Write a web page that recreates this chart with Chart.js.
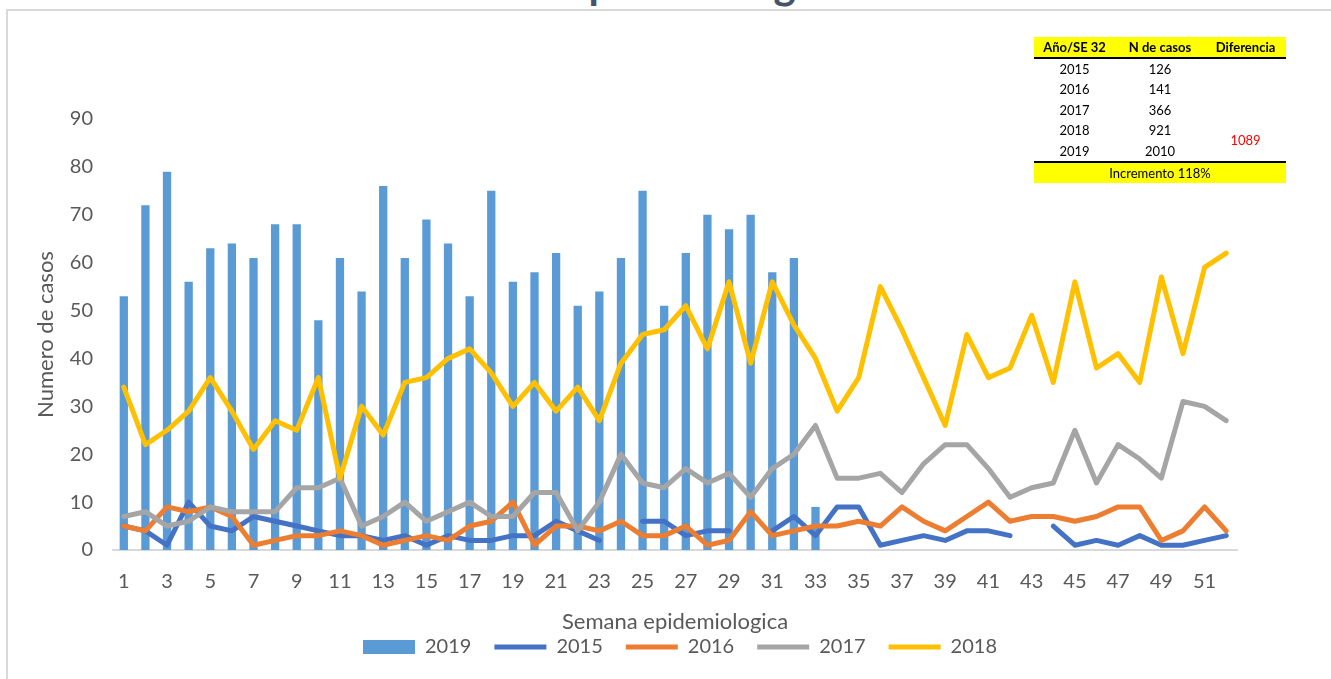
<!DOCTYPE html>
<html>
<head>
<meta charset="utf-8">
<script src="https://cdn.jsdelivr.net/npm/chart.js@4/dist/chart.umd.min.js"></script>
<style>
  body { margin: 0; background: #fff; overflow: hidden; font-family: Lato, sans-serif; }
  #frame { position: absolute; left: 6px; top: 9px; width: 1400px; height: 700px;
           border-left: 2px solid #d9d9d9; border-top: 2px solid #d9d9d9; }
  #titulo { position: absolute; top: -38px; left: -21px; width: 1336px; text-align: center;
            font: bold 42px Lato; line-height: 42px; color: #44546a; white-space: nowrap; }
  #grafico { position: absolute; left: 0; top: 0; }
  #tabla { position: absolute; left: 1034px; top: 37px; border-collapse: collapse;
           font: 13px Lato; color: #000; }
  #tabla th, #tabla td { padding: 0; text-align: center; height: 20px; line-height: 20px; }
  #tabla th { background: #ffff00; font-weight: bold; border-bottom: 2px solid #000; height: 20px; }
  #tabla td.dif { color: #ff0000; }
  #tabla tr.pie td { background: #ffff00; border-top: 2px solid #000; }
</style>
</head>
<body>
<div id="titulo">Curva epidemiológica</div>
<div id="frame"></div>
<canvas id="grafico" width="1331" height="679"></canvas>
<table id="tabla"></table>
<script>
  const semanas = ["1","2","3","4","5","6","7","8","9","10","11","12","13","14","15","16","17","18","19","20",
    "21","22","23","24","25","26","27","28","29","30","31","32","33","34","35","36","37","38","39","40",
    "41","42","43","44","45","46","47","48","49","50","51","52"];

  const casos2019 = [53,72,79,56,63,64,61,68,68,48, 61,54,76,61,69,64,53,75,56,58,
    62,51,54,61,75,51,62,70,67,70, 58,61,9,null,null,null,null,null,null,null,
    null,null,null,null,null,null,null,null,null,null, null,null];
  const casos2015 = [5,4,1,10,5,4,7,6,5,4, 3,3,2,3,1,3,2,2,3,3,
    6,4,2,null,6,6,3,4,4,null, 4,7,3,9,9,1,2,3,2,4,
    4,3,null,5,1,2,1,3,1,1, 2,3];
  const casos2016 = [5,4,9,8,9,7,1,2,3,3, 4,3,1,2,3,2,5,6,10,1,
    5,5,4,6,3,3,5,1,2,8, 3,4,5,5,6,5,9,6,4,7,
    10,6,7,7,6,7,9,9,2,4, 9,4];
  const casos2017 = [7,8,5,6,9,8,8,8,13,13, 15,5,7,10,6,8,10,7,7,12,
    12,4,10,20,14,13,17,14,16,11, 17,20,26,15,15,16,12,18,22,22,
    17,11,13,14,25,14,22,19,15,31, 30,27];
  const casos2018 = [34,22,25,29,36,29,21,27,25,36, 15,30,24,35,36,40,42,37,30,35,
    29,34,27,39,45,46,51,42,56,39, 56,47,40,29,36,55,46,36,26,45,
    36,38,49,35,56,38,41,35,57,41, 59,62];

  const yTicks = [0,10,20,30,40,50,60,70,80,90];

  // tabla resumen (arriba a la derecha)
  const tablaEncabezado = ["Año/SE 32", "N de casos", "Diferencia"];
  const tablaAnios = ["2015", "2016", "2017", "2018", "2019"];
  const tablaCasos = ["126", "141", "366", "921", "2010"];
  const tablaDiferencia = "1089";
  const tablaPie = "Incremento 118%";

  const tabla = document.getElementById("tabla");
  let html = '<colgroup><col style="width:81px"><col style="width:90px"><col style="width:81px"></colgroup>';
  html += "<tr>" + tablaEncabezado.map((t) => `<th>${t}</th>`).join("") + "</tr>";
  tablaAnios.forEach((a, i) => {
    html += `<tr style="height:20.5px"><td>${a}</td><td>${tablaCasos[i]}</td>`;
    if (i === 3) html += `<td class="dif" rowspan="2">${tablaDiferencia}</td>`;
    else if (i < 3) html += "<td></td>";
    html += "</tr>";
  });
  html += `<tr class="pie"><td colspan="3">${tablaPie}</td></tr>`;
  tabla.innerHTML = html;

  const gris = "#595959";
  const lineaBase = {
    type: "line",
    borderWidth: 5,
    pointRadius: 0,
    pointHoverRadius: 0,
    tension: 0,
    borderCapStyle: "round",
    borderJoinStyle: "round",
    pointStyle: "line",
    fill: false,
  };

  const ctx = document.getElementById("grafico").getContext("2d");
  new Chart(ctx, {
    type: "bar",
    data: {
      labels: semanas,
      datasets: [
        { type: "bar", label: "2019", data: casos2019, backgroundColor: "#5b9bd5",
          barPercentage: 0.4, categoryPercentage: 0.96, order: 5, pointStyle: "rect" },
        { ...lineaBase, label: "2015", data: casos2015, borderColor: "#4472c4", backgroundColor: "#4472c4", order: 4 },
        { ...lineaBase, label: "2016", data: casos2016, borderColor: "#ed7d31", backgroundColor: "#ed7d31", order: 3 },
        { ...lineaBase, label: "2017", data: casos2017, borderColor: "#a5a5a5", backgroundColor: "#a5a5a5", order: 2 },
        { ...lineaBase, label: "2018", data: casos2018, borderColor: "#ffc000", backgroundColor: "#ffc000", order: 1 },
      ],
    },
    options: {
      animation: false,
      responsive: false,
      layout: { padding: { left: 29, right: 0, top: 119, bottom: 12 } },
      scales: {
        x: {
          grid: { display: false, drawTicks: false },
          border: { display: true, color: "#d9d9d9", width: 2 },
          ticks: {
            autoSkip: false, maxRotation: 0, padding: 20, color: gris,
            font: { family: "Lato", size: 20 },
            callback(v, i) { return i % 2 === 0 ? this.getLabelForValue(v) : ""; },
          },
          title: { display: true, text: "Semana epidemiologica", color: gris,
                   font: { family: "Lato", size: 22 }, padding: { top: 0, bottom: -21 } },
          afterFit(s) { s.height = 64; },
        },
        y: {
          min: 0, max: 90,
          afterBuildTicks(s) { s.ticks = yTicks.map((v) => ({ value: v })); },
          grid: { display: false, drawTicks: false },
          border: { display: false },
          ticks: { padding: 20, color: gris, font: { family: "Lato", size: 20 } },
          title: { display: true, text: "Numero de casos", color: gris,
                   font: { family: "Lato", size: 22 } },
          afterFit(s) { s.width = 84; },
        },
        y2: {
          position: "right",
          grid: { display: false, drawTicks: false },
          border: { display: false },
          ticks: { display: false },
          afterFit(s) { s.width = 94; },
        },
      },
      plugins: {
        legend: {
          position: "bottom",
          labels: {
            usePointStyle: true, pointStyleWidth: 52, boxHeight: 14,
            padding: 23, color: gris, font: { family: "Lato", size: 20 },
            sort: (a, b) => a.datasetIndex - b.datasetIndex,
          },
        },
        tooltip: { enabled: false },
      },
    },
  });
</script>
</body>
</html>
